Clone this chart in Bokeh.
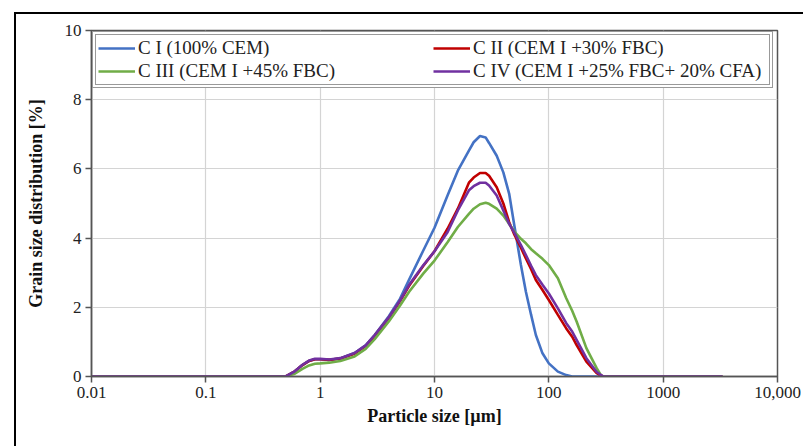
from bokeh.plotting import figure
from bokeh.models import Legend, LegendItem, FixedTicker
from bokeh.embed import file_html
from bokeh.resources import INLINE

# particle size (µm)
size_um = [0.01, 0.5, 0.6, 0.7, 0.8, 0.9, 1.0, 1.2, 1.5, 2, 2.5, 3, 4, 5, 6, 8, 10, 13, 16, 20,
           22, 25, 28, 30, 35, 40, 45, 50, 57, 63, 70, 77, 88, 100, 120, 142, 160, 175, 213, 262,
           290, 300, 3300]

c1 = [0, 0, 0.15, 0.33, 0.45, 0.50, 0.50, 0.48, 0.52, 0.68, 0.90, 1.20, 1.75, 2.25, 2.80, 3.65, 4.30, 5.23, 5.95, 6.53,
      6.77, 6.95, 6.91, 6.75, 6.38, 5.90, 5.28, 4.35, 3.22, 2.45, 1.78, 1.20, 0.67, 0.38, 0.14, 0.04, 0.0, 0, 0, 0,
      0, 0, 0]
c2 = [0, 0, 0.15, 0.33, 0.45, 0.50, 0.50, 0.48, 0.52, 0.66, 0.88, 1.18, 1.70, 2.18, 2.62, 3.20, 3.62, 4.27, 4.85, 5.60,
      5.75, 5.88, 5.88, 5.80, 5.47, 5.00, 4.46, 4.10, 3.72, 3.41, 3.10, 2.79, 2.50, 2.21, 1.78, 1.39, 1.15, 0.91, 0.43, 0.10,
      0.02, 0, 0]
c3 = [0, 0, 0.08, 0.22, 0.32, 0.37, 0.38, 0.40, 0.45, 0.58, 0.80, 1.08, 1.60, 2.05, 2.45, 2.98, 3.35, 3.88, 4.32, 4.70,
      4.85, 4.98, 5.02, 4.99, 4.85, 4.65, 4.41, 4.19, 3.98, 3.85, 3.68, 3.56, 3.40, 3.22, 2.84, 2.26, 1.90, 1.59, 0.82, 0.24,
      0.0, 0, 0]
c4 = [0, 0, 0.15, 0.34, 0.46, 0.51, 0.51, 0.49, 0.53, 0.68, 0.90, 1.20, 1.72, 2.20, 2.65, 3.22, 3.62, 4.17, 4.80, 5.38,
      5.50, 5.60, 5.60, 5.52, 5.23, 4.80, 4.41, 4.15, 3.80, 3.51, 3.20, 2.93, 2.65, 2.40, 1.97, 1.54, 1.30, 1.06, 0.53, 0.13,
      0.03, 0, 0]

names = ["C I (100% CEM)", "C II (CEM I +30% FBC)", "C III (CEM I +45% FBC)", "C IV (CEM I +25% FBC+ 20% CFA)"]
colors = ["#4472C4", "#C00000", "#70AD47", "#7030A0"]

x_ticks = [0.01, 0.1, 1, 10, 100, 1000, 10000]
x_tick_labels = ["0.01", "0.1", "1", "10", "100", "1000", "10,000"]
y_ticks = [0, 2, 4, 6, 8, 10]

FONT = "Liberation Serif"

p = figure(width=789, height=434, x_axis_type="log", x_range=(0.01, 10000), y_range=(0, 10),
           output_backend="svg", toolbar_location=None,
           min_border_left=75, min_border_right=28, min_border_top=16, min_border_bottom=72)
p.margin = (12, 0, 0, 14)
p.stylesheets = [":host { border-left: 2px solid black; border-top: 2px solid black; }"]

renderers = []
for ys, c in zip([c1, c2, c3, c4], colors):
    r = p.line(size_um, ys, line_color=c, line_width=2.6)
    renderers.append(r)

# invisible renderers for the outer (second) line of the legend's double frame
ghosts = [p.line([], [], line_alpha=0) for _ in names]


def make_legend(rends, margin, padding, text_alpha, border_color):
    lg = Legend(items=[LegendItem(label=n, renderers=[r]) for n, r in zip(names, rends)],
                location="top_left", orientation="horizontal", ncols=2)
    lg.label_text_font = FONT
    lg.label_text_font_size = "19px"
    lg.label_text_color = "#222222"
    lg.label_text_alpha = text_alpha
    lg.glyph_width = 37
    lg.label_standoff = 3
    lg.label_width = 294
    lg.label_height = 20
    lg.spacing = 1
    lg.padding = padding
    lg.margin = margin
    lg.border_line_color = border_color
    lg.border_line_width = 1.3
    lg.background_fill_color = "white"
    lg.background_fill_alpha = 1
    return lg


outer = make_legend(ghosts, 1, 5, 0, "#333333")
inner = make_legend(renderers, 4, 2, 1, "#333333")
p.add_layout(outer)
p.add_layout(inner)

p.xaxis.ticker = FixedTicker(ticks=x_ticks, minor_ticks=[])
p.xaxis.major_label_overrides = {t: l for t, l in zip(x_ticks, x_tick_labels)}
p.yaxis.ticker = FixedTicker(ticks=y_ticks, minor_ticks=[])

for ax in [p.xaxis[0], p.yaxis[0]]:
    ax.major_label_text_font = FONT
    ax.major_label_text_font_size = "17px"
    ax.major_label_text_color = "#222222"
    ax.axis_label_text_font = FONT
    ax.axis_label_text_font_size = "18px"
    ax.axis_label_text_font_style = "bold"
    ax.axis_label_text_color = "#111111"
    ax.axis_line_color = "#555555"
    ax.axis_line_width = 1.5
    ax.major_tick_line_color = "#555555"
    ax.major_tick_line_width = 1.5
    ax.major_tick_in = 0
    ax.major_tick_out = 6
    ax.minor_tick_line_color = None

p.xaxis.axis_label = "Particle size [µm]"
p.yaxis.axis_label = "Grain size distribution [%]"
p.xaxis.major_label_standoff = 4
p.yaxis.major_label_standoff = 4
p.yaxis.axis_label_standoff = 16

p.xgrid.ticker = FixedTicker(ticks=x_ticks)
p.ygrid.ticker = FixedTicker(ticks=y_ticks)
p.grid.grid_line_color = "#d4d4d4"
p.grid.grid_line_width = 1.2

p.outline_line_color = "#555555"
p.outline_line_width = 1.5
p.background_fill_color = "white"
p.border_fill_color = "white"

open("out.html", "w").write(file_html(p, INLINE))
